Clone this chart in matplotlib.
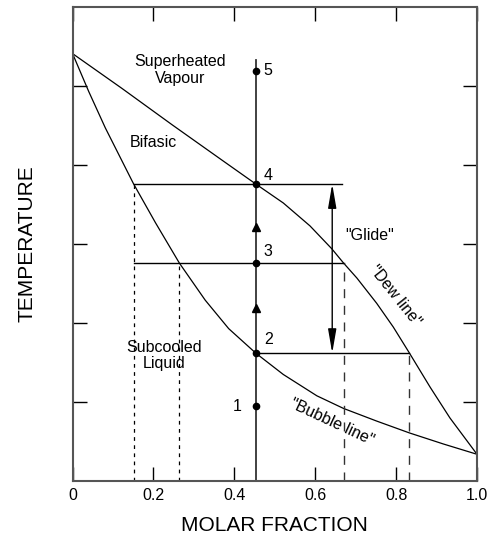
import matplotlib.pyplot as plt

plt.rcParams['font.family'] = ['Liberation Sans', 'DejaVu Sans']

# Curvas (x = fraccion molar, y = temperatura relativa)
dew_x = [0.0, 0.122, 0.246, 0.370, 0.453, 0.521, 0.587, 0.641, 0.670, 0.703,
         0.752, 0.793, 0.833, 0.884, 0.933, 1.0]
dew_y = [5.41, 4.97, 4.51, 4.06, 3.76, 3.52, 3.23, 2.94, 2.76, 2.57,
         2.25, 1.95, 1.62, 1.19, 0.80, 0.34]
bubble_x = [0.0, 0.04, 0.081, 0.151, 0.205, 0.264, 0.328, 0.386, 0.453, 0.521,
            0.604, 0.670, 0.752, 0.833, 0.917, 1.0]
bubble_y = [5.41, 4.93, 4.47, 3.76, 3.27, 2.76, 2.29, 1.93, 1.62, 1.35,
            1.08, 0.92, 0.76, 0.61, 0.47, 0.34]

# Estados 1..5 sobre la composicion de la mezcla
mix_x = 0.453
state_labels = ['1', '2', '3', '4', '5']
state_y = [0.95, 1.62, 2.76, 3.76, 5.19]
arrow_y = [2.19, 3.22]
line_top = 5.33

# Isotermas: (y, x inicial, x final)
iso_y = [3.76, 2.76, 1.62]
iso_x0 = [0.151, 0.151, 0.453]
iso_x1 = [0.665, 0.670, 0.833]

# Verticales discontinuas: (x, y superior)
short_dash_x = [0.151, 0.264]
short_dash_top = [3.76, 2.76]
long_dash_x = [0.670, 0.833]
long_dash_top = [2.76, 1.62]

glide_x = 0.642
glide_y = [3.76, 1.62]

x_ticks = [0, 0.2, 0.4, 0.6, 0.8, 1.0]
x_tick_labels = ['0', '0.2', '0.4', '0.6', '0.8', '1.0']
y_ticks = [1, 2, 3, 4, 5]

fig = plt.figure(figsize=(4.87, 5.37), dpi=100)
ax = fig.add_axes([0.149, 0.104, 0.8305, 0.883])

ax.plot(dew_x, dew_y, color='black', lw=0.9)
ax.plot(bubble_x, bubble_y, color='black', lw=0.9)

for y, x0, x1 in zip(iso_y, iso_x0, iso_x1):
    ax.plot([x0, x1], [y, y], color='black', lw=1.0)

for x, top in zip(short_dash_x, short_dash_top):
    ax.plot([x, x], [0, top], color='black', lw=0.9, linestyle=(0, (3, 3.5)))
for x, top in zip(long_dash_x, long_dash_top):
    ax.plot([x, x], [0, top], color='#333333', lw=1.0, linestyle=(0, (6.5, 5.5)))

# Linea de composicion con los estados
ax.plot([mix_x, mix_x], [0, line_top], color='#333333', lw=1.3)
ax.plot([mix_x] * len(state_y), state_y, 'o', color='black', markersize=4.5)
ax.plot([mix_x] * len(arrow_y), arrow_y, '^', color='black', markersize=6)

offsets = [(-0.035, 0.0), (0.02, 0.17), (0.018, 0.14), (0.02, 0.11), (0.02, 0.0)]
for lab, y, (dx, dy) in zip(state_labels, state_y, offsets):
    ha = 'right' if dx < 0 else 'left'
    ax.text(mix_x + dx, y + dy, lab, fontsize=11.5, ha=ha, va='center')

# Flecha del "Glide"
ax.annotate('', xy=(glide_x, glide_y[1]), xytext=(glide_x, glide_y[0]),
            arrowprops=dict(arrowstyle='<|-|>,head_length=1.45,head_width=0.25',
                            color='black', lw=1.0, shrinkA=0, shrinkB=0))

ax.text(0.266, 5.20, 'Superheated\nVapour', fontsize=11.5, ha='center', va='center',
        linespacing=1.15)
ax.text(0.2, 4.29, 'Bifasic', fontsize=11.5, ha='center', va='center')
ax.text(0.226, 1.59, 'Subcooled\nLiquid', fontsize=11.5, ha='center', va='center',
        linespacing=1.15)
ax.text(0.735, 3.11, '"Glide"', fontsize=11.5, ha='center', va='center')
ax.text(0.797, 2.35, '"Dew line"', fontsize=11.5, ha='center', va='center',
        rotation=-51.5, rotation_mode='anchor')
ax.text(0.640, 0.75, '"Bubble line"', fontsize=11.5, ha='center', va='center',
        rotation=-25, rotation_mode='anchor')

ax.set_xlim(0, 1.0)
ax.set_ylim(0, 6)
ax.set_xticks(x_ticks)
ax.set_xticklabels(x_tick_labels, fontsize=11.5)
ax.set_yticks(y_ticks)
ax.set_yticklabels([])
ax.tick_params(direction='in', length=10, width=1.0, top=True, right=True, pad=5)

for s in ax.spines.values():
    s.set_color('#555555')
    s.set_linewidth(1.5)

ax.set_xlabel('MOLAR FRACTION', fontsize=15, labelpad=9)
ax.set_ylabel('TEMPERATURE', fontsize=15, labelpad=21)

fig.savefig('out.png', dpi=100)
